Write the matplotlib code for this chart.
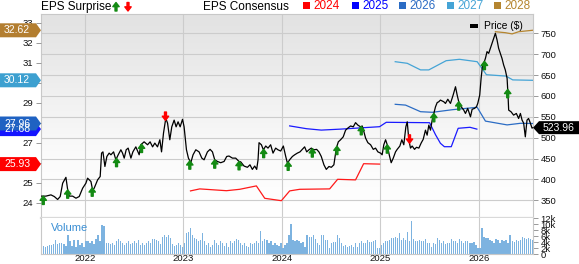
import numpy as np
import matplotlib.pyplot as plt
from matplotlib.patches import Polygon, Rectangle
from matplotlib.colors import LinearSegmentedColormap

plt.rcParams['font.family'] = ['Liberation Sans', 'DejaVu Sans']

# ---- data (decimal years) ----
price_t = [2021.554, 2021.604, 2021.655, 2021.689, 2021.723, 2021.749, 2021.774, 2021.807, 2021.825, 2021.841,
           2021.875, 2021.909, 2021.942, 2021.977, 2022.010, 2022.027, 2022.061, 2022.078, 2022.094, 2022.129,
           2022.155, 2022.169, 2022.183, 2022.203, 2022.223, 2022.246, 2022.264, 2022.291, 2022.314, 2022.338,
           2022.365, 2022.382, 2022.399, 2022.419, 2022.439, 2022.467, 2022.487, 2022.517, 2022.551, 2022.568,
           2022.601, 2022.636, 2022.662, 2022.687, 2022.710, 2022.737, 2022.761, 2022.778, 2022.798, 2022.821,
           2022.839, 2022.862, 2022.882, 2022.906, 2022.926, 2022.946, 2022.967, 2022.991, 2023.007, 2023.031,
           2023.051, 2023.075, 2023.098, 2023.126, 2023.159, 2023.187, 2023.210, 2023.244, 2023.271, 2023.295,
           2023.318, 2023.346, 2023.379, 2023.413, 2023.440, 2023.463, 2023.498, 2023.531, 2023.565, 2023.582,
           2023.616, 2023.650, 2023.676, 2023.700, 2023.724, 2023.744, 2023.758, 2023.768, 2023.792, 2023.812,
           2023.836, 2023.859, 2023.886, 2023.910, 2023.937, 2023.960, 2023.988, 2024.015, 2024.039, 2024.056,
           2024.082, 2024.107, 2024.130, 2024.157, 2024.184, 2024.208, 2024.231, 2024.252, 2024.275, 2024.299,
           2024.326, 2024.353, 2024.376, 2024.400, 2024.427, 2024.451, 2024.478, 2024.502, 2024.528, 2024.553,
           2024.573, 2024.596, 2024.623, 2024.647, 2024.670, 2024.698, 2024.725, 2024.748, 2024.772, 2024.799,
           2024.816, 2024.833, 2024.850, 2024.873, 2024.901, 2024.928, 2024.951, 2024.975, 2025.002, 2025.018,
           2025.035, 2025.053, 2025.070, 2025.090, 2025.110, 2025.131, 2025.154, 2025.171, 2025.198, 2025.218,
           2025.238, 2025.259, 2025.273, 2025.289, 2025.306, 2025.323, 2025.347, 2025.367, 2025.391, 2025.414,
           2025.435, 2025.458, 2025.475, 2025.492, 2025.509, 2025.526, 2025.543, 2025.560, 2025.577, 2025.593,
           2025.610, 2025.644, 2025.661, 2025.685, 2025.712, 2025.739, 2025.763, 2025.780, 2025.796, 2025.821,
           2025.847, 2025.864, 2025.887, 2025.915, 2025.932, 2025.955, 2025.976, 2025.989, 2026.009, 2026.023,
           2026.036, 2026.050, 2026.067, 2026.083, 2026.100, 2026.117, 2026.134, 2026.151, 2026.168, 2026.185,
           2026.201, 2026.218, 2026.235, 2026.252, 2026.269, 2026.287, 2026.297, 2026.303, 2026.327, 2026.353,
           2026.381, 2026.404, 2026.422, 2026.439, 2026.455, 2026.472, 2026.489, 2026.505, 2026.523, 2026.540,
           2026.550]
price = [360, 360, 363, 359, 352, 359, 391, 405, 375, 360,
         360, 355, 359, 379, 391, 403, 395, 375, 379, 399,
         407, 463, 466, 431, 455, 463, 459, 466, 447, 459,
         471, 463, 451, 471, 475, 451, 466, 478, 459, 483,
         490, 483, 490, 478, 487, 478, 495, 466, 511, 546,
         535, 495, 526, 542, 526, 538, 526, 544, 526, 471,
         451, 440, 459, 471, 466, 451, 447, 466, 472, 466,
         447, 443, 440, 443, 455, 456, 451, 451, 443, 442,
         432, 429, 435, 424, 432, 424, 447, 488, 483, 471,
         480, 475, 483, 463, 475, 471, 468, 480, 455, 439,
         448, 455, 459, 463, 466, 472, 478, 466, 471, 475,
         471, 472, 466, 455, 435, 424, 431, 429, 435, 475,
         490, 495, 502, 518, 523, 528, 526, 536, 530, 526,
         528, 514, 499, 488, 483, 472, 475, 466, 463, 459,
         483, 495, 483, 459, 440, 451, 466, 472, 480, 495,
         483, 526, 538, 495, 475, 480, 472, 477, 475, 487,
         496, 518, 506, 530, 518, 542, 558, 574, 584, 586,
         590, 586, 582, 592, 582, 602, 622, 602, 586, 574,
         566, 558, 570, 550, 568, 570, 574, 582, 602, 642,
         670, 678, 690, 706, 702, 714, 726, 738, 750, 734,
         714, 702, 690, 674, 662, 642, 598, 566, 562, 554,
         558, 546, 558, 542, 535, 502, 542, 546, 535, 523,
         523.96]

eps24_t = [2023.072, 2023.166, 2023.437, 2023.572, 2023.741, 2023.826, 2023.995, 2024.079, 2024.181, 2024.485,
           2024.566, 2024.748, 2024.830, 2024.992]
eps24 = [24.59, 24.69, 24.60, 24.67, 24.84, 24.22, 24.10, 24.59, 24.67, 24.69,
         25.17, 25.14, 25.95, 25.93]
eps25_t = [2024.079, 2024.250, 2024.400, 2024.600, 2024.992, 2025.060, 2025.500, 2025.560, 2025.610, 2025.650,
           2025.720, 2025.790, 2025.910, 2025.980]
eps25 = [27.84, 27.70, 27.63, 27.68, 27.80, 28.02, 28.00, 27.40, 26.97, 26.80,
         26.80, 27.72, 27.77, 27.68]
eps26_t = [2025.151, 2025.256, 2025.408, 2025.529, 2025.732, 2025.983, 2026.067, 2026.287, 2026.422, 2026.544]
eps26 = [28.92, 28.88, 28.55, 28.52, 28.65, 28.77, 28.08, 27.89, 27.97, 27.96]
eps27_t = [2025.151, 2025.273, 2025.408, 2025.492, 2025.668, 2025.803, 2025.983, 2026.077, 2026.277, 2026.344,
           2026.544]
eps27 = [31.05, 30.97, 30.64, 30.64, 31.10, 31.17, 31.05, 30.40, 30.33, 30.14,
         30.12]
eps28_t = [2026.168, 2026.270, 2026.338, 2026.405, 2026.544]
eps28 = [32.55, 32.50, 32.44, 32.55, 32.62]

surprise_t = [2021.577, 2021.825, 2022.074, 2022.321, 2022.575, 2022.818, 2023.065, 2023.318, 2023.565, 2023.815,
              2024.064, 2024.309, 2024.559, 2024.806, 2025.070, 2025.296, 2025.543, 2025.796, 2026.057, 2026.293]
surprise_up = [1, 1, 1, 1, 1, 0, 1, 1, 1, 1,
               1, 1, 1, 1, 1, 0, 1, 1, 1, 1]

# weekly volume, thousands
volume = [3.3, 2.6, 2.4, 2.8, 3.0, 3.0, 3.3, 4.7, 3.5, 3.7, 3.7, 3.5, 2.6, 6.4, 4.5,
          2.6, 4.7, 2.5, 4.7, 3.0, 3.6, 2.5, 4.2, 4.2, 3.6, 4.2, 3.4, 5.1, 6.2, 4.2,
          9.8, 9.2, 3.6, 3.6, 3.4, 3.6, 3.0, 4.2, 5.1, 4.2, 3.6, 3.0, 3.6, 4.2, 3.4,
          3.6, 4.2, 3.6, 4.7, 3.0, 3.6, 3.0, 3.6, 4.2, 3.6, 5.1, 5.1, 4.7, 4.2, 3.4,
          5.8, 6.2, 5.8, 6.2, 5.3, 3.3, 2.8, 3.0, 3.6, 3.0, 2.5, 3.6, 7.0, 7.5, 8.7,
          6.4, 5.3, 5.1, 4.2, 4.7, 7.0, 4.2, 3.0, 3.6, 2.5, 3.0, 4.7, 3.6, 3.0, 4.2,
          3.6, 2.8, 3.6, 2.5, 4.2, 3.6, 4.2, 5.1, 4.7, 3.6, 3.0, 3.6, 2.8, 2.5, 3.6,
          3.3, 3.6, 4.2, 3.6, 7.8, 4.2, 5.1, 4.7, 3.6, 4.2, 3.0, 3.6, 3.0, 2.8, 3.6,
          1.9, 3.0, 3.6, 6.4, 10.0,
          4.7, 4.4, 4.7, 4.2, 3.6, 3.9, 2.5, 6.4, 5.8, 5.8, 6.2, 5.1, 3.6, 3.0,
          6.4, 6.2, 4.7, 4.7, 1.9, 3.6, 3.9, 3.9, 6.2, 5.3, 3.6, 2.8, 3.0, 2.5, 2.8,
          3.0, 2.5, 3.6, 2.5, 3.6, 4.2, 3.6, 3.6, 4.7, 3.9, 3.9, 4.2, 4.7, 1.9, 1.9,
          3.0, 3.6, 4.2, 4.2, 4.7, 5.3, 5.3, 5.8, 5.3, 7.0, 4.7, 5.3, 4.7, 7.3, 4.2,
          11.1, 5.1, 4.4, 4.2, 4.7, 4.2, 4.2, 5.1, 3.6, 3.6, 2.5, 3.6, 3.3, 5.3, 4.7,
          3.6, 4.2, 3.3, 3.6, 3.6, 5.1, 4.2, 4.2, 3.6, 5.1, 4.2, 3.6, 4.2, 4.2, 3.6,
          3.6, 3.9, 3.0, 1.9, 1.9, 8.7, 5.8, 5.5, 5.5, 4.7, 4.2, 3.6, 5.1, 4.7, 3.6,
          4.7, 4.2, 4.7, 3.6, 6.2, 4.2, 3.9, 4.7, 4.4, 4.7, 5.8, 5.3, 5.1, 5.3, 5.1, 4.7]

years = [2022, 2023, 2024, 2025, 2026]
price_ticks = list(range(350, 751, 50))
eps_ticks = list(range(24, 34))
# labels 26, 28 and 30 sit under the value tags
eps_labels = ['24', '25', '', '27', '', '29', '', '31', '32', '33']
vol_ticks = [0, 2, 4, 6, 8, 10, 12]
vol_labels = ['0', '2k', '4k', '6k', '8k', '10k', '12k']

c24, c25, c26, c27, c28 = '#ff1a1a', '#1a1aff', '#2b6cc4', '#45a4d6', '#b5852f'

W, H = 579, 264
fig = plt.figure(figsize=(W / 100, H / 100), dpi=100)


def box(x0, y0, x1, y1):
    return [x0 / W, 1 - y1 / H, (x1 - x0) / W, (y1 - y0) / H]


ax_p = fig.add_axes(box(41, 14, 533, 218))
ax_v = fig.add_axes(box(41, 218, 533, 254), sharex=ax_p)
ax_e = ax_p.twinx()   # EPS consensus lines, left axis
ax_pr = ax_p.twinx()  # price line + surprise arrows

# background gradient of the main panel
bg = LinearSegmentedColormap.from_list('bg', [(0, '#ffffff'), (0.3, '#fbfbfb'), (1, '#e2e2e2')])
grad = np.linspace(0, 1, 256).reshape(-1, 1)
ax_p.imshow(grad, extent=[0, 1, 0, 1], transform=ax_p.transAxes, cmap=bg,
            aspect='auto', origin='lower', zorder=0)

xlim = (2021.554, 2026.55)
ax_p.set_xlim(*xlim)
ax_p.set_ylim(307.6, 796.2)
ax_p.set_xticks(years)
ax_p.set_yticks(price_ticks)
ax_p.yaxis.tick_right()
ax_p.grid(True, color='#cccccc', lw=0.8)
ax_p.set_axisbelow(True)
ax_p.tick_params(axis='x', length=0, labelbottom=False)
ax_p.tick_params(axis='y', length=3.6, width=0.7, color='#999999', pad=2,
                 labelsize=6.8, labelcolor='#111111')
for s in ax_p.spines.values():
    s.set_color('#c8c8c8')
    s.set_linewidth(0.8)
ax_p.spines['bottom'].set_color('#d9d9d9')
ax_p.spines['bottom'].set_linewidth(1.6)

ax_e.set_ylim(23.235, 33.435)
ax_e.set_yticks(eps_ticks)
ax_e.set_yticklabels(eps_labels)
ax_e.yaxis.tick_left()
ax_e.tick_params(axis='y', length=3.6, width=0.7, color='#999999', pad=2,
                 labelsize=6.8, labelcolor='#111111')
for s in ax_e.spines.values():
    s.set_visible(False)
ax_e.plot(eps24_t, eps24, color=c24, lw=0.9)
ax_e.plot(eps25_t, eps25, color=c25, lw=0.9)
ax_e.plot(eps26_t, eps26, color=c26, lw=0.9)
ax_e.plot(eps27_t, eps27, color=c27, lw=0.9)
ax_e.plot(eps28_t, eps28, color=c28, lw=0.9)

ax_pr.set_ylim(ax_p.get_ylim())
ax_pr.axis('off')
ax_pr.plot(price_t, price, color='black', lw=0.9)
for t, up in zip(surprise_t, surprise_up):
    p = np.interp(t, price_t, price)
    c = '#138a13' if up else '#ff0000'
    ax_pr.annotate('', xy=(t, p), xytext=(0, -6 if up else 6), textcoords='offset points',
                   arrowprops=dict(facecolor=c, edgecolor=c, width=1.4, headwidth=4.6,
                                   headlength=3.0, shrink=0), annotation_clip=False)

# volume panel
vol_t = np.linspace(xlim[0] + 0.008, xlim[1] - 0.008, len(volume))
ax_v.bar(vol_t, volume, width=(vol_t[1] - vol_t[0]) * 0.6, color='#7db3e0', lw=0)
ax_v.set_ylim(0, 12)
ax_v.set_yticks(vol_ticks)
ax_v.set_yticklabels(vol_labels)
ax_v.yaxis.tick_right()
ax_v.set_xticks(years)
ax_v.set_xticklabels([str(y) for y in years])
ax_v.grid(True, axis='x', color='#cccccc', lw=0.8)
ax_v.set_axisbelow(True)
ax_v.tick_params(axis='x', length=0, pad=0, labelsize=6.8, labelcolor='#111111')
ax_v.tick_params(axis='y', length=3.6, width=0.7, color='#999999', pad=2,
                 labelsize=6.8, labelcolor='#111111')
for s in ax_v.spines.values():
    s.set_color('#c8c8c8')
    s.set_linewidth(0.8)
ax_v.spines['top'].set_visible(False)
fig.text(51 / W, 1 - 228 / H, 'Volume', color='#3b8fd4', fontsize=8, va='center')

# legends at the top
fig.text(41 / W, 1 - 7 / H, 'EPS Surprise', fontsize=8.5, va='center')
ax_p.annotate('', xy=(116 / W, 1 - 2.5 / H), xycoords='figure fraction',
              xytext=(116 / W, 1 - 11 / H), textcoords='figure fraction',
              arrowprops=dict(facecolor='#138a13', edgecolor='#138a13', width=1.4,
                              headwidth=4.6, headlength=3.0, shrink=0), annotation_clip=False)
ax_p.annotate('', xy=(128 / W, 1 - 11 / H), xycoords='figure fraction',
              xytext=(128 / W, 1 - 2.5 / H), textcoords='figure fraction',
              arrowprops=dict(facecolor='#ff0000', edgecolor='#ff0000', width=1.4,
                              headwidth=4.6, headlength=3.0, shrink=0), annotation_clip=False)
fig.text(203 / W, 1 - 7 / H, 'EPS Consensus', fontsize=8.5, va='center')
for x0, lab, c in [(303, '2024', '#ff0000'), (351.5, '2025', '#0000ff'), (399, '2026', c26),
                   (446.5, '2027', c27), (494, '2028', c28)]:
    fig.add_artist(Rectangle((x0 / W, 1 - 8.5 / H), 7 / W, 7 / H, transform=fig.transFigure,
                             color=c, lw=0))
    fig.text((x0 + 10.5) / W, 1 - 6 / H, lab, color=c, fontsize=8.5, va='center')

fig.add_artist(Rectangle((470 / W, 1 - 27.5 / H), 8 / W, 3.5 / H, transform=fig.transFigure,
                         color='black', lw=0))
fig.text(484 / W, 1 - 26 / H, 'Price ($)', fontsize=7.4, va='center')

# value tags
to_fig = fig.transFigure.inverted()


def left_tag(val, txt, color):
    yf = to_fig.transform(ax_e.transData.transform((2022, val)))[1]
    hh = 7 / H
    pts = [(0, yf - hh), (36 / W, yf - hh), (41 / W, yf), (36 / W, yf + hh), (0, yf + hh)]
    fig.add_artist(Polygon(pts, closed=True, transform=fig.transFigure, color=color, lw=0))
    fig.text(4 / W, yf, txt, color='white', fontsize=7.5, va='center', ha='left')


left_tag(eps25[-1], '%.2f' % eps25[-1], '#1414ff')
left_tag(eps26[-1], '%.2f' % eps26[-1], '#1f62c2')
left_tag(eps24[-1], '%.2f' % eps24[-1], '#ff0000')
left_tag(eps27[-1], '%.2f' % eps27[-1], '#3da0d0')
left_tag(eps28[-1], '%.2f' % eps28[-1], '#b37e30')

yf = to_fig.transform(ax_p.transData.transform((2022, price[-1])))[1]
hh = 6.5 / H
fig.add_artist(Polygon([(533 / W, yf), (539 / W, yf - hh), (1, yf - hh), (1, yf + hh), (539 / W, yf + hh)],
                       closed=True, transform=fig.transFigure, color='black', lw=0))
fig.text(543 / W, yf, '%.2f' % price[-1], color='white', fontsize=7.5, va='center', ha='left')

fig.savefig('out.png', dpi=100)
